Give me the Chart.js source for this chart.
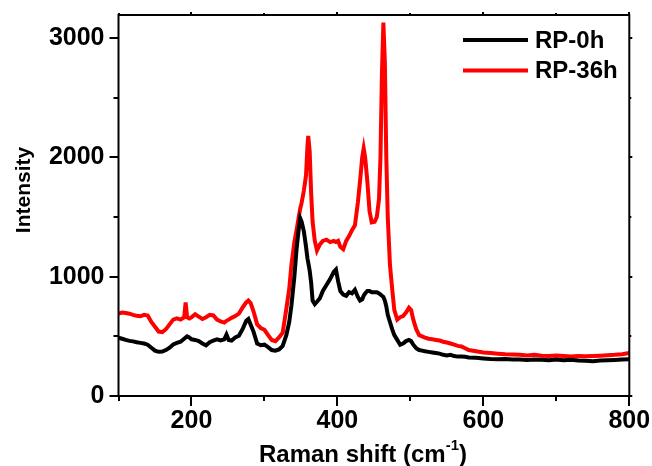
<!DOCTYPE html>
<html><head><meta charset="utf-8">
<script src="https://cdn.jsdelivr.net/npm/chart.js@4.4.0/dist/chart.umd.min.js"></script>
<style>html,body{margin:0;padding:0;background:#fff}</style>
</head><body>
<canvas id="c" width="652" height="466"></canvas>
<script>
// Raman shift (cm-1) sample positions
const ramanShift = [100,105,110,115,120,125,130,135,140,145,150,155,160,165,170,175,180,185,190,192,194,197,200,205,210,215,220,225,230,235,240,245,248,251,255,260,265,270,275,278,281,285,290,295,300,305,310,315,320,325,330,334,337,341,344,347,349,351,354,357,359,360,362,364,366,369,372,376,380,385,390,395,398,401,404,408,412,416,420,424,428,431,434,436,438,441,444,447,451,454,457,459,461,463,465,467,469,472,475,478,482,486,490,494,498,501,504,508,512,516,520,525,530,535,540,545,550,555,560,565,570,575,580,590,600,610,620,630,640,650,660,670,680,690,700,710,720,730,740,750,760,770,780,790,800];
// Intensity of RP-0h
const rp0h = [488,480,470,462,458,450,445,440,430,405,380,370,372,385,405,432,445,455,480,490,500,490,475,470,460,440,425,450,465,475,465,475,515,470,465,490,505,560,630,645,600,540,440,425,430,410,385,380,390,420,510,620,760,1000,1230,1400,1490,1460,1380,1250,1150,1120,1050,950,800,770,790,820,880,930,980,1040,1060,960,880,850,840,870,860,890,830,800,810,840,860,880,880,870,870,870,860,850,840,830,800,750,680,620,560,510,470,430,440,460,470,460,430,400,385,380,375,370,365,360,355,345,340,345,335,330,330,328,322,320,315,310,308,310,305,305,302,305,303,300,305,300,303,298,295,292,298,300,302,305,308];
// Intensity of RP-36h
const rp36h = [690,700,695,690,680,672,668,680,675,620,580,540,535,560,600,640,650,640,660,785,660,650,660,685,665,645,660,680,675,640,625,615,630,640,655,670,690,740,785,800,780,710,600,570,555,510,470,460,490,530,730,900,1100,1290,1390,1500,1570,1620,1720,1850,2100,2180,2050,1700,1460,1300,1220,1270,1300,1310,1290,1300,1290,1300,1250,1230,1300,1340,1390,1430,1620,1800,2000,2075,2000,1800,1550,1455,1460,1500,1650,2000,2700,3130,2800,2000,1500,1100,900,720,640,660,670,700,740,720,640,560,510,500,490,480,475,470,465,455,448,440,430,420,415,400,385,375,365,360,355,350,348,345,340,345,338,335,340,336,332,335,333,335,338,342,345,350,360];
const seriesLabels = ['RP-0h', 'RP-36h'];
const seriesColors = ['#000000', '#ff0000'];
const xTickValues = [100, 200, 300, 400, 500, 600, 700, 800];
const xMajorTicks = [200, 400, 600, 800];
const yTickValues = [0, 500, 1000, 1500, 2000, 2500, 3000];
const yMajorTicks = [0, 1000, 2000, 3000];
const yTitle = 'Intensity';
const xTitleParts = ['Raman shift (cm', '-1', ')'];

const FONT = 'Arial, "Liberation Sans", sans-serif';

const pts = (ys) => ramanShift.map((x, i) => ({x: x, y: ys[i]}));

const decorPlugin = {
  id: 'decor',
  afterDatasetsDraw(chart) {
    const ctx = chart.ctx;
    const a = chart.chartArea;
    const xs = chart.scales.x, ys = chart.scales.y;
    ctx.save();
    ctx.strokeStyle = '#000';
    ctx.lineWidth = 2;
    ctx.lineCap = 'butt';
    ctx.strokeRect(a.left, a.top, a.right - a.left, a.bottom - a.top);
    ctx.beginPath();
    xTickValues.forEach((v) => {
      const p = Math.round(xs.getPixelForValue(v));
      const major = xMajorTicks.includes(v);
      ctx.moveTo(p, a.bottom); ctx.lineTo(p, a.bottom + (major ? 10 : 5));
      ctx.moveTo(p, a.top); ctx.lineTo(p, a.top - (major ? 3 : 2));
    });
    yTickValues.forEach((v) => {
      const p = Math.round(ys.getPixelForValue(v));
      const major = yMajorTicks.includes(v);
      ctx.moveTo(a.left, p); ctx.lineTo(a.left - (major ? 9 : 5), p);
      ctx.moveTo(a.right, p); ctx.lineTo(a.right + (major ? 3 : 2), p);
    });
    ctx.stroke();

    // legend
    chart.data.datasets.forEach((ds, i) => {
      const y = 40 + i * 30.5;
      ctx.strokeStyle = ds.borderColor;
      ctx.lineWidth = 4;
      ctx.beginPath();
      ctx.moveTo(463, y); ctx.lineTo(528, y);
      ctx.stroke();
      ctx.fillStyle = '#000';
      ctx.font = 'bold 24px ' + FONT;
      ctx.textAlign = 'left';
      ctx.textBaseline = 'middle';
      ctx.fillText(ds.label, 535, y + 1);
    });

    // y title
    ctx.save();
    ctx.translate(24, 190);
    ctx.rotate(-Math.PI / 2);
    ctx.font = 'bold 21px ' + FONT;
    ctx.textAlign = 'center';
    ctx.textBaseline = 'middle';
    ctx.fillStyle = '#000';
    ctx.fillText(yTitle, 0, 0);
    ctx.restore();

    // x title with superscript
    ctx.fillStyle = '#000';
    ctx.textBaseline = 'alphabetic';
    ctx.textAlign = 'left';
    const bigFont = 'bold 24px ' + FONT, smallFont = 'bold 15px ' + FONT;
    ctx.font = bigFont; const w1 = ctx.measureText(xTitleParts[0]).width; const w3 = ctx.measureText(xTitleParts[2]).width;
    ctx.font = smallFont; const w2 = ctx.measureText(xTitleParts[1]).width;
    let sx = 363 - (w1 + w2 + w3) / 2;
    const base = 462;
    ctx.font = bigFont; ctx.fillText(xTitleParts[0], sx, base); sx += w1;
    ctx.font = smallFont; ctx.fillText(xTitleParts[1], sx, base - 12); sx += w2;
    ctx.font = bigFont; ctx.fillText(xTitleParts[2], sx, base);
    ctx.restore();
  }
};

const zeroPad = (s) => { s.paddingTop = 0; s.paddingBottom = 0; s.paddingLeft = 0; s.paddingRight = 0; };

new Chart(document.getElementById('c'), {
  type: 'line',
  data: {
    datasets: [
      {label: seriesLabels[0], data: pts(rp0h), borderColor: seriesColors[0], borderWidth: 4, pointRadius: 0, tension: 0, fill: false},
      {label: seriesLabels[1], data: pts(rp36h), borderColor: seriesColors[1], borderWidth: 4, pointRadius: 0, tension: 0, fill: false}
    ]
  },
  options: {
    responsive: false,
    animation: false,
    events: [],
    layout: {padding: {top: 15, right: 22.7, left: 0, bottom: 0}},
    plugins: {legend: {display: false}, tooltip: {enabled: false}, title: {display: false}},
    scales: {
      x: {
        type: 'linear', min: 100, max: 800,
        grid: {display: false, drawTicks: false},
        border: {display: false},
        afterBuildTicks: (s) => { s.ticks = xMajorTicks.map((v) => ({value: v})); },
        ticks: {
          autoSkip: false, maxRotation: 0, padding: 10,
          color: '#000', font: {family: FONT, size: 25, weight: 'bold'},
          callback: (v) => String(v)
        },
        afterFit: (s) => { s.height = 70; zeroPad(s); }
      },
      y: {
        type: 'linear', min: 0, max: 3193,
        grid: {display: false, drawTicks: false},
        border: {display: false},
        afterBuildTicks: (s) => { s.ticks = yMajorTicks.map((v) => ({value: v})); },
        ticks: {
          autoSkip: false, padding: 14,
          color: '#000', font: {family: FONT, size: 25, weight: 'bold'},
          callback: (v) => String(v)
        },
        afterFit: (s) => { s.width = 118.5; zeroPad(s); }
      }
    }
  },
  plugins: [decorPlugin]
});
</script>
</body></html>
